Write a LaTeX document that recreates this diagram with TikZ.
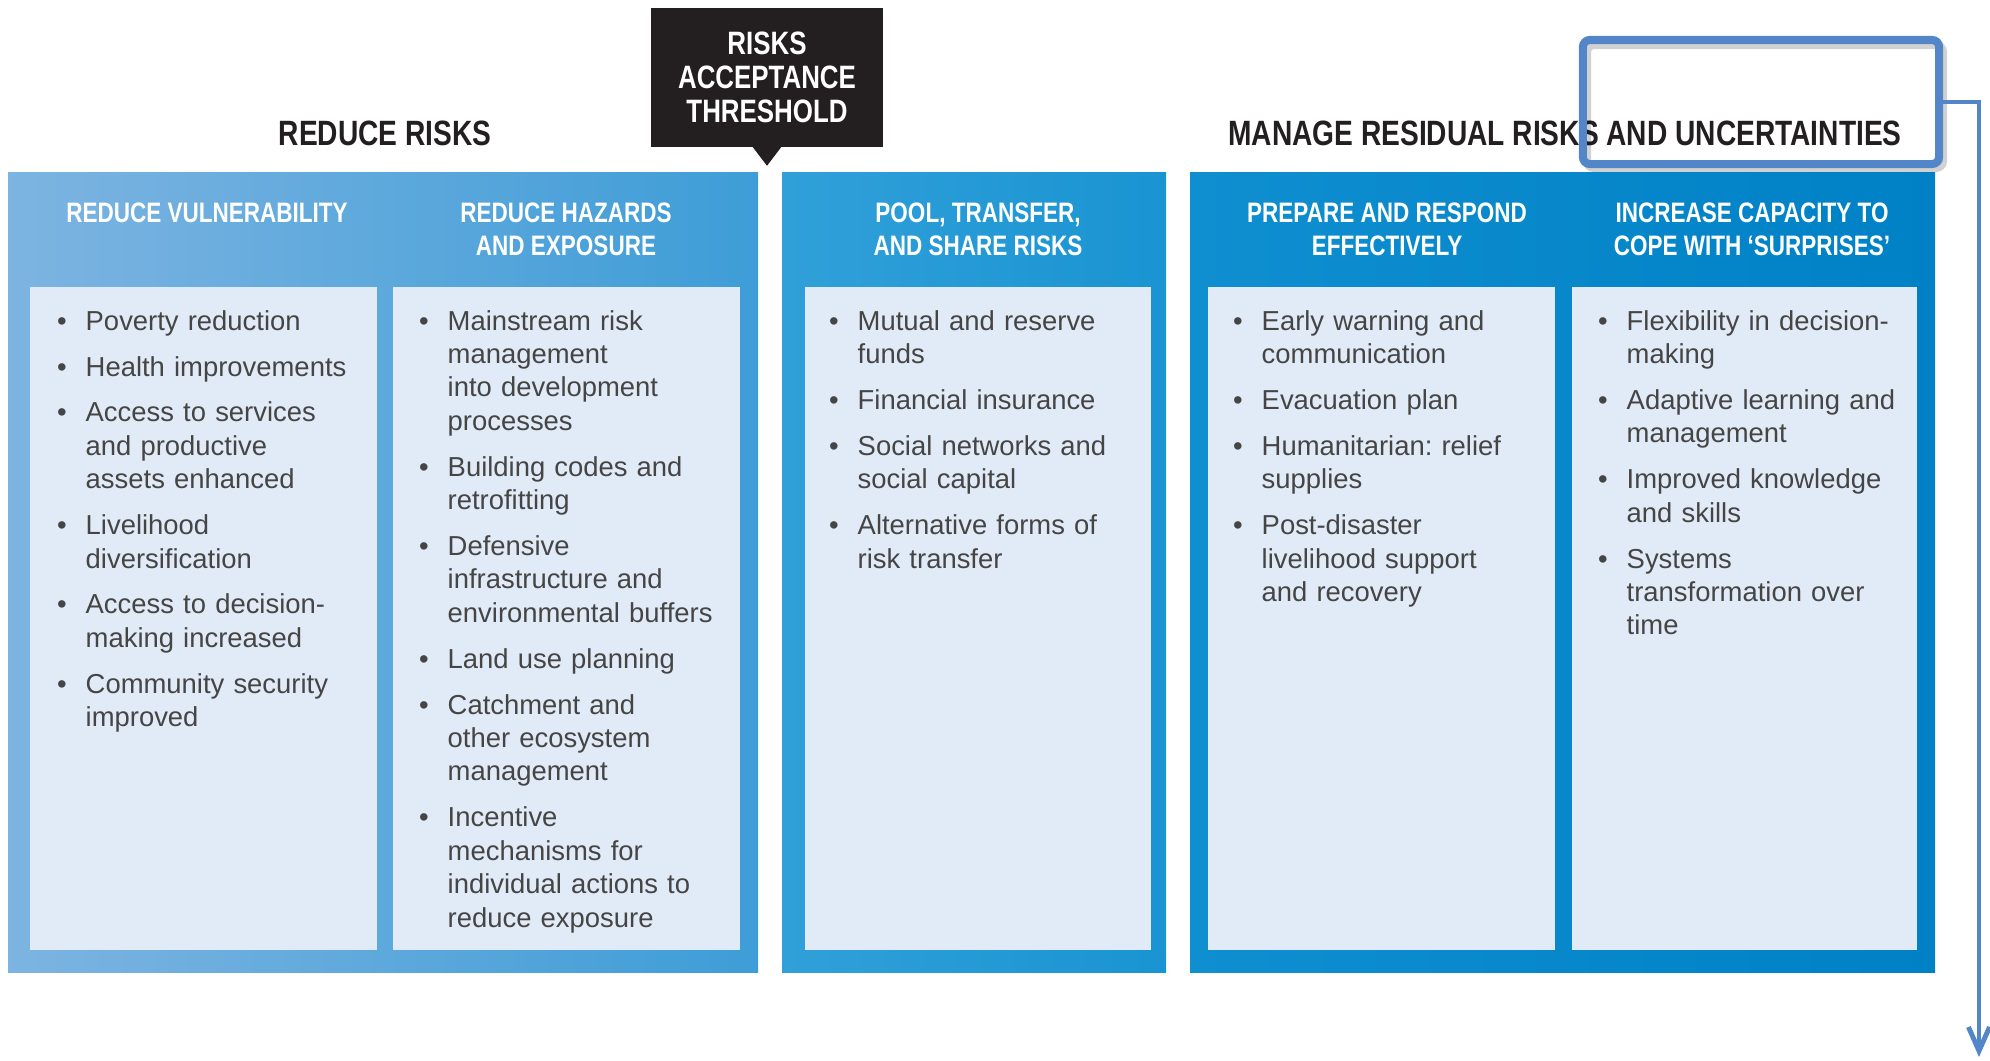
\documentclass[tikz,border=0pt]{standalone}
\usepackage{fontspec}
\setmainfont{Liberation Sans}
\newfontfamily\condfont{Liberation Sans}[FakeStretch=0.8]
\usepackage{xcolor}
\usepackage{enumitem}
\usetikzlibrary{positioning, arrows.meta}

\setlist[itemize]{label=\textbullet, nosep, leftmargin=0pt, labelsep=5.4pt, itemsep=3.55pt}

\definecolor{inkdark}{HTML}{231F20}
\definecolor{bodygray}{HTML}{454545}
\definecolor{paleblue}{HTML}{E1EBF7}
\definecolor{markblue}{HTML}{5286C9}
\definecolor{leftA}{HTML}{7DB4E1}
\definecolor{leftB}{HTML}{3E9DD7}
\definecolor{midA}{HTML}{31A0D9}
\definecolor{midB}{HTML}{1994D2}
\definecolor{rightA}{HTML}{0F8FD0}
\definecolor{rightB}{HTML}{0081C6}

\tikzset{
  heading/.style={inner sep=0pt, text=inkdark, font=\condfont\bfseries\fontsize{10}{12}\selectfont},
  subhead/.style={anchor=north, inner sep=0pt, align=center, text=white, font=\condfont\bfseries\fontsize{8}{9.4}\selectfont},
  bullets/.style={anchor=north west, inner sep=0pt, text width=3.1cm, align=left, text=bodygray,
                  font=\fontsize{7.8}{9.5}\selectfont\frenchspacing},
}

\begin{document}
\begin{tikzpicture}[x=0.01cm, y=-0.01cm]
  \useasboundingbox (0,0) rectangle (1990,1060);

  % three blue panels
  \shade[left color=leftA, right color=leftB] (8,172) rectangle (758,972);
  \shade[left color=midA, right color=midB] (782,172) rectangle (1166,972);
  \shade[left color=rightA, right color=rightB] (1190,172) rectangle (1935,972);

  % light boxes for the lists
  \foreach \x/\w in {30/347, 393/347, 805/346, 1208/347, 1572/345} {
    \fill[paleblue] (\x,287) rectangle ++(\w,663);
  }

  % threshold label with its pointer
  \node[fill=inkdark, text=white, minimum width=2.32cm, minimum height=1.39cm, inner sep=0pt,
        align=center, font=\condfont\bfseries\fontsize{9.2}{9.6}\selectfont] (thresh) at (767,77.5)
       {RISKS\\ACCEPTANCE\\THRESHOLD};
  \fill[inkdark] (thresh.south) ++(-14.5,-1) -- ++(29,0) -- ++(-14.5,19) -- cycle;

  \node[heading] (reduce) at (385,133) {REDUCE RISKS};
  \node[heading] (manage) at (1565,133) {MANAGE RESIDUAL RISKS AND UNCERTAINTIES};

  % column titles
  \foreach \n/\x/\t in {1/207/{REDUCE VULNERABILITY}, 2/566/{REDUCE HAZARDS\\AND EXPOSURE},
                        3/978/{POOL, TRANSFER,\\AND SHARE RISKS}, 4/1387/{PREPARE AND RESPOND\\EFFECTIVELY},
                        5/1752/{INCREASE CAPACITY TO\\COPE WITH ‘SURPRISES’}} {
    \node[subhead] (head\n) at (\x,202) {\t};
  }

  % lists
  \node[bullets] (list1) at (85,296) {\begin{itemize}
    \item Poverty reduction
    \item Health improvements
    \item Access to services\\and productive\\assets enhanced
    \item Livelihood\\diversification
    \item Access to decision-\\making increased
    \item Community security\\improved
  \end{itemize}};
  \node[bullets] (list2) at (447,296) {\begin{itemize}
    \item Mainstream risk\\management\\into development\\processes
    \item Building codes and\\retrofitting
    \item Defensive\\infrastructure and\\environmental buffers
    \item Land use planning
    \item Catchment and\\other ecosystem\\management
    \item Incentive\\mechanisms for\\individual actions to\\reduce exposure
  \end{itemize}};
  \node[bullets] (list3) at (857,296) {\begin{itemize}
    \item Mutual and reserve\\funds
    \item Financial insurance
    \item Social networks and\\social capital
    \item Alternative forms of\\risk transfer
  \end{itemize}};
  \node[bullets] (list4) at (1261,296) {\begin{itemize}
    \item Early warning and\\communication
    \item Evacuation plan
    \item Humanitarian: relief\\supplies
    \item Post-disaster\\livelihood support\\and recovery
  \end{itemize}};
  \node[bullets] (list5) at (1626,296) {\begin{itemize}
    \item Flexibility in decision-\\making
    \item Adaptive learning and\\management
    \item Improved knowledge\\and skills
    \item Systems\\transformation over\\time
  \end{itemize}};

  % marked frame and its arrow
  \draw[black, opacity=0.18, line width=2.3pt, rounded corners=2pt] (1587,45) rectangle (1943,168);
  \node[draw=markblue, line width=2.3pt, rounded corners=2pt, minimum width=3.56cm,
        minimum height=1.24cm, inner sep=0pt] (focus) at (1761,102) {};
  \coordinate (drop) at (1979,1057);
  \draw[markblue, line width=1.4pt, -{Straight Barb[length=6.8pt, width=6pt]}] (focus.east) -| (drop);
\end{tikzpicture}
\end{document}
